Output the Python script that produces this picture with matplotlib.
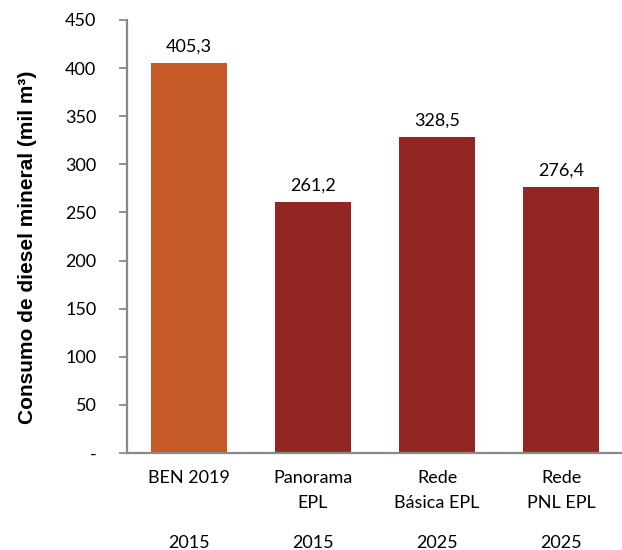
import matplotlib.pyplot as plt
from matplotlib.ticker import FuncFormatter

# Dados
categorias = ['BEN 2019', 'Panorama\nEPL', 'Rede\nBásica EPL', 'Rede\nPNL EPL']
anos = ['2015', '2015', '2025', '2025']
consumo = [405.3, 261.2, 328.5, 276.4]
cores = ['#C55A28', '#922623', '#922623', '#922623']

plt.rcParams['font.family'] = ['Lato', 'DejaVu Sans']

fig = plt.figure(figsize=(6.22, 5.5), dpi=100)
ax = fig.add_axes([127 / 622, 97 / 550, 496 / 622, 433 / 550])

x = range(len(categorias))
barras = ax.bar(x, consumo, width=0.613, color=cores)

# Rótulos de valor
for xi, v in zip(x, consumo):
    ax.annotate(f'{v:.1f}'.replace('.', ','), (xi, v), xytext=(0, 6),
                textcoords='offset points', ha='center', va='bottom', fontsize=13)

ax.set_xlim(-0.5, 3.5)
ax.set_ylim(0, 450)
ax.set_yticks(range(0, 451, 50))
ax.yaxis.set_major_formatter(FuncFormatter(lambda v, p: '-' if v == 0 else f'{v:.0f}'))

ax.set_xticks(list(x))
ax.set_xticklabels(categorias, fontsize=13, va='top', linespacing=1.7)
ax.tick_params(axis='x', length=0, pad=12)
ax.tick_params(axis='y', length=6, width=1.3, color='#898989', labelsize=13, pad=16)

# Anos
for xi, ano in zip(x, anos):
    ax.annotate(ano, (xi, 0), xycoords=('data', 'axes fraction'), xytext=(0, -90),
                textcoords='offset pixels', ha='center', va='center', fontsize=13)

for lado in ['top', 'right']:
    ax.spines[lado].set_visible(False)
for lado in ['left', 'bottom']:
    ax.spines[lado].set_color('#898989')
    ax.spines[lado].set_linewidth(1.6)

ax.set_ylabel('Consumo de diesel mineral (mil m³)', fontsize=15, fontweight='bold',
              family=['Liberation Sans', 'DejaVu Sans'], va='center')
ax.yaxis.set_label_coords(-0.2, 0.476)

fig.savefig('out.png', dpi=100)
